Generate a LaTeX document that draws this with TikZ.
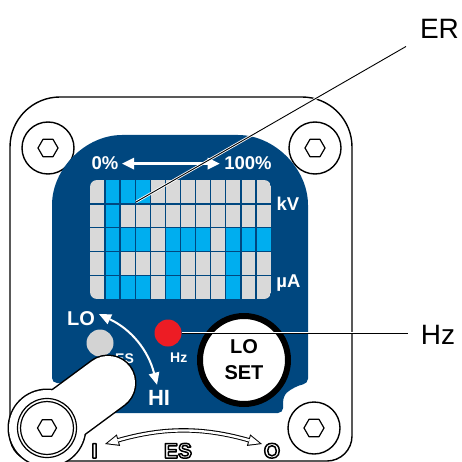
\documentclass[tikz,border=0pt]{standalone}
\usepackage{fontspec}
\setmainfont{Liberation Sans}
\usetikzlibrary{arrows.meta}
\definecolor{panelblue}{RGB}{0,71,127}
\definecolor{barblue}{RGB}{0,174,239}
\definecolor{cellgray}{RGB}{217,217,217}
\definecolor{dotgray}{RGB}{211,211,211}
\definecolor{ledred}{RGB}{237,28,36}
% white letters with a black rim (text render mode 2)
\newcommand\hollow[1]{\special{pdf:literal direct 2 Tr 1.5 w 0 G}#1\special{pdf:literal direct 0 Tr 0.4 w}}

\begin{document}
\begin{tikzpicture}[x=1pt, y=-1pt, line join=round,
  outline/.style={line width=1.4pt},
  paneltext/.style={text=white, inner sep=0pt, anchor=base, font=\bfseries\fontsize{18.5}{20}\selectfont},
  smalltext/.style={text=white, inner sep=0pt, anchor=base, font=\bfseries\fontsize{14}{16}\selectfont},
  hollowtext/.style={text=white, inner sep=0pt, anchor=base, font=\bfseries\fontsize{21}{24}\selectfont},
  labeltext/.style={inner sep=0pt, anchor=base, font=\fontsize{28}{32}\selectfont},
  dot/.style={circle, minimum size=27pt, inner sep=0pt},
  halo/.style={white, line width=2.6pt},
  leader/.style={line width=0.9pt}]
\useasboundingbox (0,0) rectangle (462,462);

\draw[outline] (10,147) arc(180:270:50) -- (302,97) arc(270:360:50) -- (352,436) arc(0:90:25) -- (35,461) arc(90:180:25) -- cycle;

\foreach \sx/\sy in {48/148, 315/148, 314/428} {
  \draw[outline] (\sx,\sy) circle[radius=26];
  \draw[line width=1.2pt, shift={(\sx,\sy)}] (0:10) -- (60:10) -- (120:10) -- (180:10) -- (240:10) -- (300:10) -- cycle;
}

% display panel
\fill[panelblue, rounded corners=5pt] (52,383) -- (52,210) arc(180:270:75) -- (233,135) arc(270:360:75) -- (308,383.6) arc(261:225:45) -- (283,413) -- (110,413) -- (110,383) -- cycle;

\begin{scope}
\clip[rounded corners=7pt] (90,180) rectangle (271,299);
\fill[cellgray] (90,180) rectangle (271,299);
\foreach \row/\cols in {0/{1,2,3}, 1/{1}, 2/{1,2,3,5,6,7,9,10,11}, 3/{1,5,9}, 4/{1,2,3,5,9}}
  \foreach \col in \cols
    \fill[barblue] (90+\col*15.083,180+\row*23.8) rectangle ++(15.083,23.8);
\foreach \col in {1,...,11} \draw[panelblue, line width=1.4pt] (90+\col*15.083,180) -- ++(0,119);
\foreach \row in {1,...,4} \draw[panelblue, line width=1.4pt] (90,180+\row*23.8) -- ++(181,0);
\end{scope}

\node[paneltext] (pctlow) at (105,170) {0\%};
\node[paneltext] (pcthigh) at (248,170) {100\%};
\draw[white, line width=2.6pt, {Triangle[length=12pt,width=12pt,line width=0pt]}-{Triangle[length=12pt,width=12pt,line width=0pt]}, shorten <=3.5pt, shorten >=4.5pt] (pctlow.east) -- (pcthigh.west);
\node[paneltext] (kv) at (288,210) {kV};
\node[paneltext] (ua) at (288.5,287) {µA};

\node[paneltext, font=\bfseries\fontsize{20}{22}\selectfont] (lolabel) at (81,325) {LO};
\node[paneltext, font=\bfseries\fontsize{22}{24}\selectfont] (hilabel) at (159,405) {HI};
\draw[white, line width=2pt, {Triangle[length=12pt,width=11pt,line width=0pt]}-{Triangle[length=12pt,width=11pt,line width=0pt]}] ([shift={(4pt,4pt)}]lolabel.east) to[bend left=25] ([shift={(-2pt,5pt)}]hilabel.north);

\node[dot, fill=dotgray] (esdot) at (100,343) {};
\node[smalltext] (eslabel) at (124.5,363) {ES};
\node[dot, fill=ledred] (hzdot) at (168,333) {};
\node[smalltext] (hzsmall) at (178.7,362.7) {Hz};

\node[circle, draw=black, line width=6pt, fill=white, minimum size=88pt, inner sep=0pt, align=center, font=\bfseries\fontsize{20}{26}\selectfont] (loset) at (244,360) {LO\\SET};

% lever
\coordinate (pivot) at (47,428);
\coordinate (leverend) at (108,383);
\draw[line width=57pt, line cap=round] (pivot) -- (leverend);
\fill (pivot) circle[radius=39.5];
\draw[white, line width=54pt, line cap=round] (pivot) -- (leverend);
\fill[white] (pivot) circle[radius=38];
\draw[line width=1.2pt] (pivot) circle[radius=29.5] (pivot) circle[radius=26.5];
\draw[line width=1.2pt, shift={(pivot)}] (0:9.5) -- (60:9.5) -- (120:9.5) -- (180:9.5) -- (240:9.5) -- (300:9.5) -- cycle;

% switch positions
\node[hollowtext] (ilabel) at (94.5,458) {\hollow{I}};
\node[hollowtext] (esswitch) at (178,458) {\hollow{ES}};
\node[hollowtext] (olabel) at (272,458) {\hollow{O}};
\coordinate (esleft) at (105,444);
\coordinate (esright) at (262,444);
\draw[line width=4.4pt, {Triangle[length=14pt,width=12pt,line width=0pt]}-{Triangle[length=14pt,width=12pt,line width=0pt]}] (esleft) to[bend left=16] (esright);
\draw[white, line width=2.4pt, {Triangle[length=10.5pt,width=9pt,line width=0pt]}-{Triangle[length=10.5pt,width=9pt,line width=0pt]}, shorten <=2.5pt, shorten >=2.5pt] (esleft) to[bend left=16] (esright);

% callouts
\node[labeltext] (erlabel) at (439.5,38.3) {ER};
\node[labeltext] (hzlabel) at (438,344) {Hz};
\coordinate (erpt) at (136,202);
\draw[halo, shorten >=16pt] (erpt) -- (erlabel.south west);
\draw[leader, shorten >=16pt] (erpt) -- (erlabel.south west);
\draw[halo, shorten >=13pt] (hzdot.east) -- (hzdot.east -| hzlabel.west);
\draw[leader, shorten >=13pt] (hzdot.east) -- (hzdot.east -| hzlabel.west);

\end{tikzpicture}
\end{document}
